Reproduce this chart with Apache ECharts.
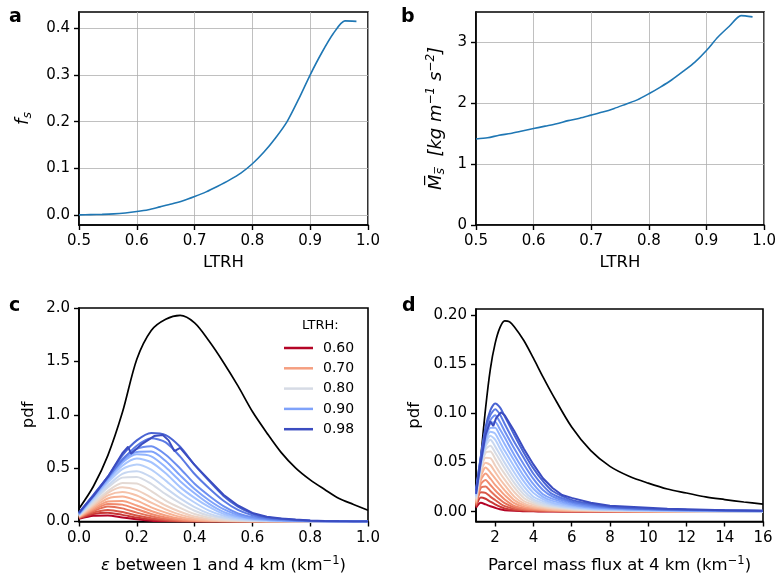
<!DOCTYPE html>
<html><head><meta charset="utf-8">
<script src="https://cdn.jsdelivr.net/npm/echarts@6/dist/echarts.min.js"></script>
<style>html,body{margin:0;padding:0;background:#fff}#c{width:779px;height:575px}</style>
</head><body><div id="c"></div><script>
// ---------- DATA ----------
const ltrh = [0.50,0.52,0.54,0.56,0.58,0.60,0.62,0.64,0.66,0.68,0.70,0.72,0.74,0.76,0.78,0.80,0.82,0.84,0.86,0.88,0.90,0.92,0.94,0.96,0.98];
const fsVals = [0.001,0.0015,0.002,0.003,0.005,0.008,0.012,0.018,0.024,0.031,0.040,0.050,0.062,0.075,0.090,0.110,0.135,0.165,0.200,0.248,0.300,0.347,0.388,0.415,0.414];
const msVals = [1.41,1.43,1.47,1.50,1.54,1.58,1.62,1.66,1.71,1.75,1.80,1.85,1.91,1.98,2.05,2.15,2.26,2.38,2.52,2.67,2.86,3.08,3.26,3.43,3.41];

const ltrhLevels = ['0.60','0.62','0.64','0.66','0.68','0.70','0.72','0.74','0.76','0.78','0.80','0.82','0.84','0.86','0.88','0.90','0.92','0.94','0.96','0.98'];
const legendLevels = ['0.60','0.70','0.80','0.90','0.98'];

// panel c: entrainment pdf
const epsX = [0,0.05,0.10,0.15,0.20,0.25,0.30,0.35,0.40,0.45,0.50,0.55,0.60,0.65,0.70,0.75,0.80,0.85,0.90,0.95,1.00];
const epsAll = [0.12,0.33,0.62,1.02,1.52,1.79,1.895,1.93,1.86,1.69,1.49,1.27,1.03,0.83,0.645,0.50,0.39,0.30,0.215,0.16,0.105];
const epsPdf = [
 [.025,.054,.057,.038,.021,.008,.003,.001,0,0,0,0,0,0,0,0,0,0,0,0,0],
 [.030,.071,.082,.062,.037,.018,.006,.003,.001,0,0,0,0,0,0,0,0,0,0,0,0],
 [.033,.084,.108,.089,.056,.030,.013,.005,.002,.001,0,0,0,0,0,0,0,0,0,0,0],
 [.036,.098,.140,.123,.083,.049,.023,.009,.004,.002,.001,0,0,0,0,0,0,0,0,0,0],
 [.039,.110,.165,.158,.115,.071,.037,.017,.007,.003,.002,.001,0,0,0,0,0,0,0,0,0],
 [.042,.121,.187,.192,.150,.098,.056,.026,.012,.006,.003,.001,0,0,0,0,0,0,0,0,0],
 [.045,.135,.216,.234,.195,.133,.083,.043,.019,.009,.005,.002,.001,0,0,0,0,0,0,0,0],
 [.048,.148,.245,.277,.244,.176,.114,.064,.031,.015,.008,.004,.002,.001,0,0,0,0,0,0,0],
 [.051,.159,.269,.320,.294,.224,.150,.091,.046,.022,.011,.006,.003,.002,.001,0,0,0,0,0,0],
 [.054,.172,.286,.361,.355,.285,.196,.128,.070,.036,.017,.010,.005,.003,.002,.001,0,0,0,0,0],
 [.057,.189,.318,.411,.417,.353,.256,.172,.101,.054,.029,.014,.009,.005,.002,.001,0,0,0,0,0],
 [.060,.200,.337,.446,.470,.415,.314,.216,.135,.074,.037,.019,.011,.007,.004,.002,.001,0,0,0,0],
 [.063,.214,.363,.490,.535,.486,.383,.270,.178,.102,.054,.028,.016,.009,.005,.002,.001,0,0,0,0],
 [.066,.223,.381,.522,.590,.555,.451,.322,.221,.136,.071,.038,.021,.013,.007,.004,.002,.001,0,0,0],
 [.069,.231,.392,.550,.629,.610,.508,.378,.264,.165,.090,.048,.025,.015,.009,.005,.003,.001,0,0,0],
 [.072,.236,.404,.567,.651,.655,.567,.432,.304,.199,.115,.061,.030,.019,.011,.006,.003,.001,0,0,0],
 [.075,.243,.410,.585,.681,.706,.626,.497,.353,.241,.144,.076,.042,.024,.014,.008,.004,.002,.001,0,0],
 [.078,.246,.415,.577,.710,.780,.741,.608,.445,.312,.195,.109,.059,.031,.020,.012,.006,.003,.002,.001,0],
 [.080,.250,.420,.620,.760,.830,.810,.700,.530,.380,.240,.140,.075,.040,.025,.015,.008,.004,.002,.001,0]
];
const eps098X = [0,0.05,0.10,0.15,0.17,0.18,0.22,0.26,0.29,0.31,0.33,0.35,0.40,0.45,0.50,0.55,0.60,0.65,0.70,0.75,0.80,0.85,0.90,0.95,1.00];
const eps098Y = [0.085,0.24,0.42,0.64,0.70,0.635,0.73,0.80,0.81,0.76,0.66,0.69,0.53,0.39,0.25,0.15,0.08,0.045,0.028,0.018,0.010,0.005,0.002,0.001,0];

// panel d: mass flux pdf
const fluxAllX = [1,1.25,1.5,1.75,2,2.25,2.5,2.75,3,3.5,4,4.5,5,6,7,8,9,10,11,12,13,14,15,16];
const fluxAll = [0.005,0.055,0.105,0.145,0.171,0.187,0.194,0.193,0.188,0.174,0.156,0.137,0.119,0.086,0.062,0.046,0.036,0.029,0.023,0.019,0.015,0.0123,0.0098,0.0077];
const fluxX = [1,1.25,1.5,1.75,2,2.25,2.5,3,3.5,4,4.5,5,6,7,8,10,12,14,16];
const fluxPdf = [
 [.004,.009,.0074,.0055,.0039,.0024,.0015,.0008,.0005,.0003,.0002,.0002,.0001,.0001,0,0,0,0,0],
 [.005,.0145,.0131,.0101,.0075,.0051,.0033,.0016,.0010,.0006,.0005,.0004,.0002,.0002,.0001,0,0,0,0],
 [.006,.0198,.0191,.0153,.0118,.0083,.0056,.0028,.0017,.0011,.0008,.0006,.0004,.0003,.0002,.0001,0,0,0],
 [.007,.0242,.0257,.0211,.0165,.0123,.0086,.0042,.0025,.0016,.0011,.0009,.0005,.0004,.0003,.0002,.0001,0,0],
 [.008,.028,.0322,.0271,.0218,.017,.0124,.0059,.0035,.0024,.0016,.0012,.0008,.0005,.0004,.0002,.0001,0,0],
 [.009,.0321,.0388,.0335,.0273,.022,.0168,.0086,.0049,.0033,.0022,.0016,.001,.0007,.0005,.0003,.0002,.0001,0],
 [.010,.0356,.0448,.040,.0338,.0275,.0216,.0117,.0066,.0043,.003,.002,.0013,.0009,.0007,.0004,.0002,.0001,0],
 [.011,.0387,.0498,.0474,.0403,.0332,.027,.0153,.0085,.0054,.0039,.0028,.0017,.0012,.0008,.0005,.0003,.0002,.0001],
 [.012,.0408,.0547,.0544,.047,.0393,.0325,.020,.0108,.0071,.005,.0035,.0021,.0014,.001,.0006,.0003,.0002,.0001],
 [.013,.0431,.0598,.0611,.0539,.0457,.0384,.0246,.0139,.0088,.006,.0044,.0025,.0017,.0013,.0008,.0004,.0002,.0001],
 [.014,.0448,.0632,.067,.0602,.0522,.0441,.0292,.0175,.0107,.0071,.0054,.003,.002,.0015,.0009,.0005,.0003,.0002],
 [.015,.0463,.0661,.073,.0664,.058,.0496,.0343,.0212,.0126,.0088,.0064,.0036,.0024,.0018,.0011,.0006,.0004,.0002],
 [.016,.0476,.0686,.0772,.0733,.0644,.0558,.0398,.0257,.0152,.0107,.0076,.0044,.0028,.002,.0012,.0008,.0005,.0003],
 [.017,.0493,.0711,.0813,.0794,.0706,.0618,.0457,.0307,.0191,.0127,.009,.0054,.0033,.0024,.0015,.001,.0006,.0004],
 [.018,.0502,.0739,.0852,.0854,.0774,.0686,.0519,.0361,.0233,.0151,.011,.0064,.0039,.0029,.0017,.0011,.0007,.0005],
 [.019,.0523,.0767,.0893,.0911,.0837,.0753,.0577,.0419,.0279,.0177,.013,.0076,.0047,.0033,.002,.0013,.0009,.0006],
 [.020,.0535,.0793,.0929,.098,.0911,.0818,.0642,.048,.0333,.022,.0154,.009,.0055,.0039,.0024,.0016,.0011,.0007],
 [.021,.0557,.0828,.0982,.104,.0988,.0891,.0707,.0546,.0385,.0265,.0177,.0104,.0068,.0045,.0026,.0018,.0012,.0008],
 [.022,.056,.086,.103,.110,.106,.097,.078,.060,.044,.031,.021,.012,.008,.005,.003,.002,.0015,.001]
];
const flux098X = [1,1.25,1.5,1.75,1.9,2.05,2.3,2.5,3,3.5,4,4.5,5,5.5,6,7,8,9,10,11,12,14,16];
const flux098Y = [0.018,0.05,0.078,0.092,0.087,0.095,0.101,0.098,0.082,0.064,0.048,0.034,0.024,0.017,0.014,0.009,0.006,0.005,0.004,0.003,0.0025,0.0015,0.001];

// tick labels
const ticksA_y = [0,0.1,0.2,0.3,0.4];
const ticksB_y = [0,1,2,3];
const ticksD_x = [2,4,6,8,10,12,14,16];
const ticksD_y = [0,0.05,0.10,0.15,0.20];

// ---------- STYLE ----------
const FONT = 'DejaVu Sans';
const palette = ['rgb(180,4,38)','rgb(200,55,53)','rgb(216,86,70)','rgb(229,113,89)','rgb(240,137,108)','rgb(245,159,128)','rgb(247,178,148)','rgb(245,194,169)','rgb(239,207,190)','rgb(228,217,211)','rgb(214,219,229)','rgb(199,215,241)','rgb(182,207,250)','rgb(164,195,255)','rgb(146,180,254)','rgb(127,162,250)','rgb(109,143,241)','rgb(91,122,228)','rgb(74,100,211)','rgb(59,76,192)'];

function zip(xs, ys){ return xs.map((x,i)=>[x, ys[i]]); }

function axis(o){
  const a = {
    type:'value', gridIndex:o.g, min:o.min, max:o.max,
    axisLine:{show:true,onZero:false,lineStyle:{color:'#000',width:1.6}},
    axisTick:{show:true,length:5,lineStyle:{color:'#000',width:1.4}},
    axisLabel:{color:'#000',fontSize:15,fontFamily:FONT,margin:9,formatter:o.fmt},
    splitLine:{show:!!o.grid,lineStyle:{color:'#b0b0b0',width:0.8}},
    name:o.name, nameLocation:'middle', nameGap:o.gap,
    nameTextStyle:Object.assign({color:'#000',fontSize:16.5,fontFamily:FONT}, o.nts||{})
  };
  if (o.interval!==undefined) a.interval = o.interval;
  if (o.custom) { a.axisTick.customValues = o.custom; a.axisLabel.customValues = o.custom; }
  if (o.rot) a.nameRotate = o.rot;
  return a;
}
const f1 = v=>v.toFixed(1), f0 = v=>String(Math.round(v)), f2 = v=>v.toFixed(2);
const supStyle = {fontSize:12,fontFamily:FONT,color:'#000',fontStyle:'italic',verticalAlign:'top',lineHeight:20};
const supUp = {fontSize:11.5,fontFamily:FONT,color:'#000',verticalAlign:'top',lineHeight:20};

const xAxes = [
  axis({g:0,min:0.5,max:1.0,interval:0.1,fmt:f1,grid:true,name:'LTRH',gap:29}),
  axis({g:1,min:0.5,max:1.0,interval:0.1,fmt:f1,grid:true,name:'LTRH',gap:29}),
  axis({g:2,min:0,max:1,interval:0.2,fmt:f1,name:'{e|ε} between 1 and 4 km (km{p|−1})',gap:34,
        nts:{rich:{e:{fontStyle:'italic',fontSize:16.5,fontFamily:FONT,color:'#000',lineHeight:20},p:supUp}}}),
  axis({g:3,min:1,max:16,custom:ticksD_x,fmt:f0,name:'Parcel mass flux at 4 km (km{p|−1})',gap:34,
        nts:{rich:{p:supUp}}})
];
const yAxes = [
  axis({g:0,min:-0.0207,max:0.434,custom:ticksA_y,fmt:f1,grid:true,name:'{i|f}{s|s}',gap:45,rot:90,
        nts:{rich:{i:{fontStyle:'italic',fontSize:18,fontFamily:FONT,color:'#000',lineHeight:22},
                   s:{fontStyle:'italic',fontSize:12.5,fontFamily:FONT,color:'#000',verticalAlign:'bottom',lineHeight:22}}}}),
  axis({g:1,min:0,max:3.49,custom:ticksB_y,fmt:f0,grid:true,
        name:'{i|M\u0305}{s|s\u0305}{i|  [kg m}{p|−1}{i| s}{p|−2}{i|]}',gap:29,rot:90,
        nts:{rich:{i:{fontStyle:'italic',fontSize:18,fontFamily:FONT,color:'#000',lineHeight:22},
                   s:{fontStyle:'italic',fontSize:12.5,fontFamily:FONT,color:'#000',verticalAlign:'bottom',lineHeight:22},
                   p:supStyle}}}),
  axis({g:2,min:0,max:2,interval:0.5,fmt:f1,name:'pdf',gap:42,rot:90}),
  axis({g:3,min:-0.01,max:0.206,custom:ticksD_y,fmt:f2,name:'pdf',gap:53,rot:90})
];

const series = [];
function line(xi, data, color, width, name, smooth){
  const s = {type:'line', xAxisIndex:xi, yAxisIndex:xi, data:data, symbol:'none', showSymbol:false,
    smooth:smooth||false,
    lineStyle:{color:color,width:width}, itemStyle:{color:color}, animation:false, silent:true, z:2};
  if (name) s.name = name;
  series.push(s);
}
line(0, zip(ltrh, fsVals), '#1f77b4', 1.6, null, 0.25);
line(1, zip(ltrh, msVals), '#1f77b4', 1.6, null, 0.25);
line(2, zip(epsX, epsAll), '#000', 1.7, null, 0.3);
epsPdf.forEach((ys,i)=>line(2, zip(epsX, ys), palette[i], 2, ltrhLevels[i], 0.25));
line(2, zip(eps098X, eps098Y), palette[19], 2, ltrhLevels[19], false);
line(3, zip(fluxAllX, fluxAll), '#000', 1.7, null, 0.3);
fluxPdf.forEach((ys,i)=>line(3, zip(fluxX, ys), palette[i], 2, ltrhLevels[i], 0.25));
line(3, zip(flux098X, flux098Y), palette[19], 2, ltrhLevels[19], false);

const gridBase = {show:true, borderColor:'#000', borderWidth:1.6, backgroundColor:'transparent'};
const option = {
  animation:false,
  grid:[
    Object.assign({left:79,top:12,width:289,height:213}, gridBase),
    Object.assign({left:476,top:12,width:289,height:213}, gridBase),
    Object.assign({left:79,top:308,width:289,height:214}, gridBase),
    Object.assign({left:476,top:309,width:287,height:213}, gridBase)
  ],
  xAxis:xAxes, yAxis:yAxes, series:series,
  legend:{data:legendLevels, orient:'vertical', left:284, top:341, icon:'rect', itemWidth:29, itemHeight:2.5,
    itemGap:6.3, selectedMode:false, padding:0,
    textStyle:{fontSize:14,fontFamily:FONT,color:'#000',padding:[0,0,0,5]}},
  graphic:[
    {type:'text',left:9,top:8,style:{text:'a',font:'bold 19px "DejaVu Sans"',fill:'#000'}},
    {type:'text',left:401,top:8,style:{text:'b',font:'bold 19px "DejaVu Sans"',fill:'#000'}},
    {type:'text',left:9,top:297,style:{text:'c',font:'bold 19px "DejaVu Sans"',fill:'#000'}},
    {type:'text',left:402,top:297,style:{text:'d',font:'bold 19px "DejaVu Sans"',fill:'#000'}},
    {type:'text',left:302,top:319,style:{text:'LTRH:',font:'13px "DejaVu Sans"',fill:'#000'}}
  ]
};
const chart = echarts.init(document.getElementById('c'), null, {renderer:'canvas'});
chart.setOption(option);
</script></body></html>
